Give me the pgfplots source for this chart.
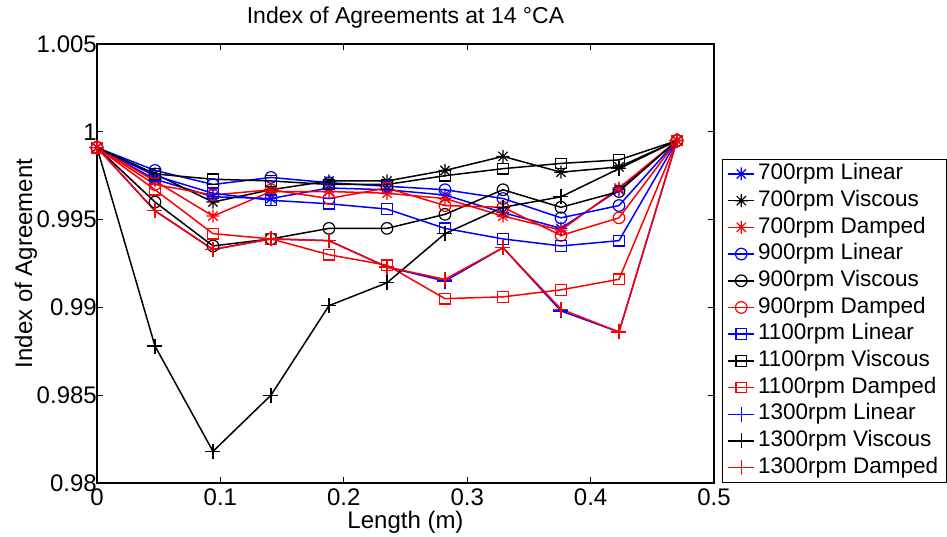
\documentclass[border=0pt]{standalone}
\usepackage{fontspec}
\setmainfont{Liberation Sans}
\usepackage{pgfplots}
\pgfplotsset{compat=1.18}
\pgfdeclareplotmark{mstar}{%
  \pgfpathmoveto{\pgfqpoint{-\pgfplotmarksize}{0pt}}\pgfpathlineto{\pgfqpoint{\pgfplotmarksize}{0pt}}%
  \pgfpathmoveto{\pgfqpoint{0pt}{-\pgfplotmarksize}}\pgfpathlineto{\pgfqpoint{0pt}{\pgfplotmarksize}}%
  \pgfpathmoveto{\pgfqpoint{-0.707\pgfplotmarksize}{-0.707\pgfplotmarksize}}\pgfpathlineto{\pgfqpoint{0.707\pgfplotmarksize}{0.707\pgfplotmarksize}}%
  \pgfpathmoveto{\pgfqpoint{-0.707\pgfplotmarksize}{0.707\pgfplotmarksize}}\pgfpathlineto{\pgfqpoint{0.707\pgfplotmarksize}{-0.707\pgfplotmarksize}}%
  \pgfusepathqstroke}
\newcommand{\fs}{\fontsize{22.5}{26}\selectfont}
\newcommand{\ft}{\fontsize{24}{28}\selectfont}
\begin{document}
\begin{tikzpicture}
\path[use as bounding box] (-97pt,-53pt) rectangle (850pt,483pt);
\begin{axis}[
  scale only axis, width=617pt, height=439pt,
  xmin=0, xmax=0.5, ymin=0.98, ymax=1.005,
  xtick={0,0.1,0.2,0.3,0.4,0.5}, xticklabels={0,0.1,0.2,0.3,0.4,0.5},
  ytick={0.98,0.985,0.99,0.995,1,1.005}, yticklabels={0.98,0.985,0.99,0.995,1,1.005},
  /pgf/number format/assume math mode=true,
  tick align=inside, major tick length=6pt, minor tick num=0,
  axis line style={line width=1.4pt}, every tick/.style={line width=1pt, black},
  tick label style={font=\ft},
  yticklabel style={inner xsep=0pt},
  xticklabel style={inner ysep=6pt},
  title={Index of Agreements at 14 °CA},
  title style={font=\fontsize{23}{27}\selectfont, at={(axis description cs:0.5,1)}, anchor=base, inner sep=0pt, yshift=14pt},
  xlabel={Length (m)},
  xlabel style={font=\ft, at={(axis description cs:0.5,0)}, anchor=base, inner sep=0pt, yshift=-45pt},
  ylabel={Index of Agreement},
  ylabel style={font=\ft, at={(axis description cs:-0.105,0.5)}, anchor=base, inner sep=0pt},
  every axis plot/.append style={line width=1.5pt, mark size=5.8pt, mark options={solid, line width=1.2pt}},
  legend cell align=left,
  legend style={at={(1.013,0)}, anchor=south west, draw=black, line width=1pt, font=\fs,
    inner xsep=5pt, inner ysep=1.5pt, row sep=0pt,
    nodes={inner xsep=3pt, inner ysep=2.5pt, text height=16.5pt, text depth=5.2pt}},
  legend image code/.code={\draw[mark repeat=2,mark phase=2] plot coordinates {(0pt,0pt) (13pt,0pt) (26pt,0pt)};},
]
% 700rpm Linear
\addplot[blue, mark=mstar, mark size=6.5pt] coordinates {(0,0.9991) (0.047,0.9973) (0.094,0.9963) (0.141,0.9962) (0.188,0.9968) (0.235,0.9967) (0.282,0.9964) (0.329,0.9954) (0.376,0.9945) (0.423,0.9967) (0.47,0.9995)};
\addlegendentry{700rpm Linear}
% 700rpm Viscous
\addplot[black, mark=mstar, mark size=6.5pt] coordinates {(0,0.9991) (0.047,0.9976) (0.094,0.9960) (0.141,0.9967) (0.188,0.9972) (0.235,0.9972) (0.282,0.9978) (0.329,0.9986) (0.376,0.9977) (0.423,0.9980) (0.47,0.9995)};
\addlegendentry{700rpm Viscous}
% 700rpm Damped
\addplot[red, mark=mstar, mark size=6.5pt] coordinates {(0,0.9991) (0.047,0.9972) (0.094,0.9952) (0.141,0.9966) (0.188,0.9966) (0.235,0.9965) (0.282,0.9962) (0.329,0.9952) (0.376,0.9944) (0.423,0.9968) (0.47,0.9995)};
\addlegendentry{700rpm Damped}
% 900rpm Linear
\addplot[blue, mark=o] coordinates {(0,0.9991) (0.047,0.9978) (0.094,0.9970) (0.141,0.9974) (0.188,0.9971) (0.235,0.9969) (0.282,0.9967) (0.329,0.9962) (0.376,0.9951) (0.423,0.9958) (0.47,0.9995)};
\addlegendentry{900rpm Linear}
% 900rpm Viscous
\addplot[black, mark=o] coordinates {(0,0.9991) (0.047,0.9960) (0.094,0.9935) (0.141,0.9939) (0.188,0.9945) (0.235,0.9945) (0.282,0.9953) (0.329,0.9967) (0.376,0.9957) (0.423,0.9966) (0.47,0.9995)};
\addlegendentry{900rpm Viscous}
% 900rpm Damped
\addplot[red, mark=o] coordinates {(0,0.9991) (0.047,0.9970) (0.094,0.9964) (0.141,0.9967) (0.188,0.9962) (0.235,0.9968) (0.282,0.9958) (0.329,0.9957) (0.376,0.9941) (0.423,0.9951) (0.47,0.9995)};
\addlegendentry{900rpm Damped}
% 1100rpm Linear
\addplot[blue, mark=square, mark size=5.3pt] coordinates {(0,0.9991) (0.047,0.9975) (0.094,0.9965) (0.141,0.9961) (0.188,0.9959) (0.235,0.9956) (0.282,0.9945) (0.329,0.9939) (0.376,0.9935) (0.423,0.9938) (0.47,0.9995)};
\addlegendentry{1100rpm Linear}
% 1100rpm Viscous
\addplot[black, mark=square, mark size=5.3pt] coordinates {(0,0.9991) (0.047,0.9976) (0.094,0.9973) (0.141,0.9972) (0.188,0.9970) (0.235,0.9970) (0.282,0.9975) (0.329,0.9979) (0.376,0.9982) (0.423,0.9984) (0.47,0.9995)};
\addlegendentry{1100rpm Viscous}
% 1100rpm Damped
\addplot[red, mark=square, mark size=5.3pt] coordinates {(0,0.9991) (0.047,0.9967) (0.094,0.9942) (0.141,0.9939) (0.188,0.9930) (0.235,0.9924) (0.282,0.9905) (0.329,0.9906) (0.376,0.9910) (0.423,0.9916) (0.47,0.9995)};
\addlegendentry{1100rpm Damped}
% 1300rpm Linear
\addplot[blue, mark=+, mark size=7.5pt] coordinates {(0,0.9991) (0.047,0.9955) (0.094,0.9933) (0.141,0.9939) (0.188,0.9938) (0.235,0.9923) (0.282,0.9915) (0.329,0.9934) (0.376,0.9898) (0.423,0.9886) (0.47,0.9995)};
\addlegendentry{1300rpm Linear}
% 1300rpm Viscous
\addplot[black, mark=+, mark size=7.5pt] coordinates {(0,0.9991) (0.047,0.9878) (0.094,0.9818) (0.141,0.9850) (0.188,0.9901) (0.235,0.9914) (0.282,0.9942) (0.329,0.9957) (0.376,0.9963) (0.423,0.9979) (0.47,0.9995)};
\addlegendentry{1300rpm Viscous}
% 1300rpm Damped
\addplot[red, mark=+, mark size=7.5pt] coordinates {(0,0.9991) (0.047,0.9955) (0.094,0.9933) (0.141,0.9939) (0.188,0.9938) (0.235,0.9923) (0.282,0.9916) (0.329,0.9934) (0.376,0.9899) (0.423,0.9886) (0.47,0.9995)};
\addlegendentry{1300rpm Damped}
\end{axis}
\end{tikzpicture}
\end{document}
